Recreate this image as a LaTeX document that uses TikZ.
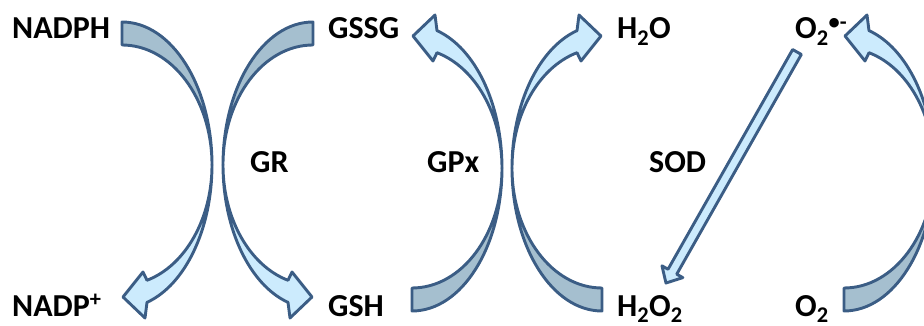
\documentclass[tikz,border=0pt]{standalone}
\usepackage{fontspec}
\setmainfont{Carlito}

\definecolor{edgeblue}{RGB}{59,93,133}
\definecolor{backgray}{RGB}{165,191,207}
\definecolor{frontblue}{RGB}{204,235,253}

% bent arrow: tail on top, head at the bottom pointing left
\newcommand{\bentarrow}[1]{%
  \begin{scope}[#1]
    \draw [edge, fill=backgray] (0,143) arc [start angle=90, end angle=0, x radius=90, y radius=143]
      arc [start angle=0, end angle=90, x radius=90, y radius=120] -- cycle;
    \draw [edge, fill=frontblue] (90,0) arc [start angle=0, end angle=-73.87, x radius=90, y radius=143]
      -- (23,-153) -- (1,-132) -- (21,-107) -- (25,-115.3)
      arc [start angle=-73.87, end angle=0, x radius=90, y radius=120] -- cycle;
  \end{scope}}

\begin{document}
\begin{tikzpicture}[x=1pt,y=1pt]
  \tikzstyle{every node}+=[inner sep=0pt, anchor=base west, font=\bfseries\fontsize{32}{36}\selectfont]
  \tikzstyle{edge}=[draw=edgeblue, line width=2.9pt, line join=round]
  \useasboundingbox (0,0) rectangle (924,-326);
  \clip (0,0) rectangle (924,-326);
  % labels
  \node (nadph) at (12,-39) {NADPH};
  \node (nadp) at (12,-316) {NADP\textsuperscript{+}};
  \node (gr) at (250,-173) {GR};
  \node (gssg) at (328,-39) {GSSG};
  \node (gsh) at (328,-316) {GSH};
  \node (gpx) at (427,-173) {GPx};
  \node (water) at (617,-39) {H\textsubscript{2}O};
  \node (peroxide) at (617,-316) {H\textsubscript{2}O\textsubscript{2}};
  \node (sod) at (649,-173) {SOD};
  \node (superoxide) at (795,-39) {O\textsubscript{2}\textsuperscript{\textbullet-}};
  \node (oxygen) at (795,-316) {O\textsubscript{2}};
  % curved arrows
  \bentarrow{shift={(122,-165)}}
  \bentarrow{shift={(313,-165)}, xscale=-1}
  \bentarrow{shift={(412,-168)}, yscale=-1}
  \bentarrow{shift={(602,-168)}, xscale=-1, yscale=-1}
  \bentarrow{shift={(844,-168)}, yscale=-1}
  % SOD arrow
  \coordinate (sodtop) at (797,-52);
  \begin{scope}[shift={(sodtop)}, rotate=240.44]
    \draw [edge, fill=frontblue] (0,-5) -- (252.6,-5) -- (252.6,-12) -- (265.6,0)
      -- (252.6,12) -- (252.6,5) -- (0,5) -- cycle;
  \end{scope}
\end{tikzpicture}
\end{document}
